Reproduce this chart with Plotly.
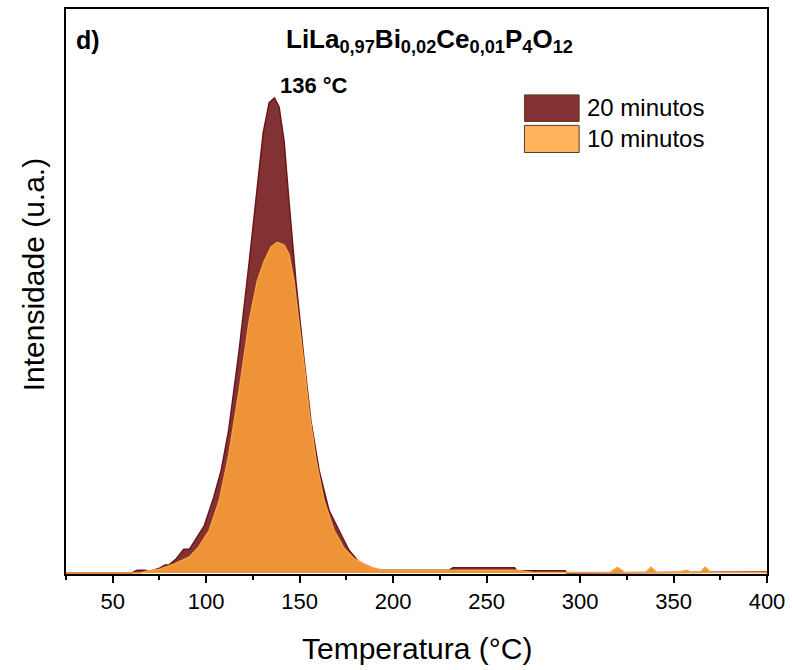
import plotly.graph_objects as go

# ---- data ----
temp_20 = [25, 60, 63, 67, 70, 75, 78, 80, 84, 88, 91, 94, 99, 104, 108, 112, 117.6, 123, 127,
           130.5, 133.7, 136.5, 139, 141.7, 144.3, 148, 152.4, 156, 160.4, 165.7, 171, 176.4,
           181.8, 187, 192.5, 230, 232, 265, 266, 292, 293, 360, 400]
int_20 = [0, 0, 0.006, 0.006, 0.004, 0.010, 0.017, 0.017, 0.030, 0.050, 0.050, 0.069, 0.100,
          0.159, 0.216, 0.300, 0.468, 0.654, 0.801, 0.927, 0.990, 1.000, 0.981, 0.908, 0.782,
          0.614, 0.447, 0.321, 0.216, 0.132, 0.090, 0.048, 0.023, 0.013, 0.006, 0.006, 0.011,
          0.011, 0.005, 0.005, 0.0, 0.002, 0.002]

temp_10 = [25, 65, 68, 75, 83, 91, 96, 101.6, 107, 112, 117.6, 123, 127.3, 131, 134.7, 138,
           141.7, 144.3, 147, 149.7, 152.4, 155, 158.8, 163, 168.4, 173.8, 179, 184.4, 189.8,
           195, 266, 275, 316, 320, 324, 335, 338, 341, 352, 357, 360, 364, 367, 370, 400]
int_10 = [0, 0, 0.004, 0.008, 0.019, 0.034, 0.055, 0.090, 0.153, 0.247, 0.384, 0.530, 0.614,
          0.656, 0.686, 0.696, 0.690, 0.671, 0.614, 0.530, 0.436, 0.342, 0.237, 0.153, 0.090,
          0.052, 0.031, 0.019, 0.010, 0.006, 0.006, 0.001, 0.001, 0.012, 0.001, 0.001, 0.012,
          0.001, 0.001, 0.006, 0.001, 0.001, 0.012, 0.001, 0.001]

series_names = ["20 minutos", "10 minutos"]
x_ticks = [50, 100, 150, 200, 250, 300, 350, 400]
peak_label = "136 °C"
peak_pos = (157.5, 1.025)

FONT = "Liberation Sans, Arial, Helvetica, sans-serif"
dark_fill, dark_line = "#833233", "#6A1719"
orange_fill, orange_line = "#EE9337", "#F7A040"
legend_dark, legend_orange = "#833233", "#FFB35A"

fig = go.Figure()
fig.add_trace(go.Scatter(x=temp_20, y=int_20, mode="lines", fill="tozeroy",
                         fillcolor=dark_fill, line=dict(color=dark_line, width=1.5),
                         name=series_names[0], showlegend=False))
fig.add_trace(go.Scatter(x=temp_10, y=int_10, mode="lines", fill="tozeroy",
                         fillcolor=orange_fill, line=dict(color=orange_line, width=1.5),
                         name=series_names[1], showlegend=False))

# manual legend (large boxes like reference)
leg = [(0.801, 0.848, legend_dark, series_names[0], 0.825),
       (0.746, 0.794, legend_orange, series_names[1], 0.771)]
shapes = []
annotations = []
for y0, y1, col, name, yc in leg:
    shapes.append(dict(type="rect", xref="paper", yref="paper", x0=0.654, x1=0.732,
                       y0=y0, y1=y1, fillcolor=col, line=dict(color="#5a3a2a", width=1)))
    annotations.append(dict(xref="paper", yref="paper", x=0.740, y=yc, text=name,
                            showarrow=False, xanchor="left", yanchor="middle",
                            font=dict(family=FONT, size=24, color="black")))

annotations += [
    dict(xref="paper", yref="paper", x=0.518, y=0.945,
         text="<b>LiLa<sub>0,97</sub>Bi<sub>0,02</sub>Ce<sub>0,01</sub>P<sub>4</sub>O<sub>12</sub></b>",
         showarrow=False, xanchor="center", yanchor="middle",
         font=dict(family=FONT, size=26, color="black")),
    dict(xref="paper", yref="paper", x=0.012, y=0.945, text="<b>d)</b>",
         showarrow=False, xanchor="left", yanchor="middle",
         font=dict(family=FONT, size=25, color="black")),
    dict(xref="x", yref="y", x=peak_pos[0], y=peak_pos[1], text="<b>" + peak_label + "</b>",
         showarrow=False, xanchor="center", yanchor="middle",
         font=dict(family=FONT, size=22, color="black")),
    dict(xref="paper", yref="paper", x=0.5, y=-0.131, text="Temperatura (°C)",
         showarrow=False, xanchor="center", yanchor="middle",
         font=dict(family=FONT, size=30, color="black")),
    dict(xref="paper", yref="paper", x=-0.046, y=0.53, text="Intensidade (u.a.)",
         textangle=-90, showarrow=False, xanchor="center", yanchor="middle",
         font=dict(family=FONT, size=30, color="black")),
]

fig.update_layout(
    width=792, height=670,
    margin=dict(l=66, r=24, t=7, b=96),
    paper_bgcolor="white", plot_bgcolor="white",
    font=dict(family=FONT, color="black"),
    shapes=shapes, annotations=annotations,
    showlegend=False,
)
fig.update_xaxes(range=[25, 400], tickvals=x_ticks, ticks="outside", ticklen=7,
                 tickwidth=1.5, tickcolor="black",
                 minor=dict(ticks="outside", ticklen=4, dtick=25, tick0=25,
                            tickcolor="black", tickwidth=1.5),
                 showline=True, linecolor="black", linewidth=1.5, mirror=True,
                 showgrid=False, zeroline=False,
                 tickfont=dict(family=FONT, size=22, color="black"))
fig.update_yaxes(range=[-0.002, 1.187], showticklabels=False, ticks="",
                 showline=True, linecolor="black", linewidth=1.5, mirror=True,
                 showgrid=False, zeroline=False)

fig.write_html("out.html", config={"displayModeBar": False},
               post_script="document.body.style.margin='0';")
